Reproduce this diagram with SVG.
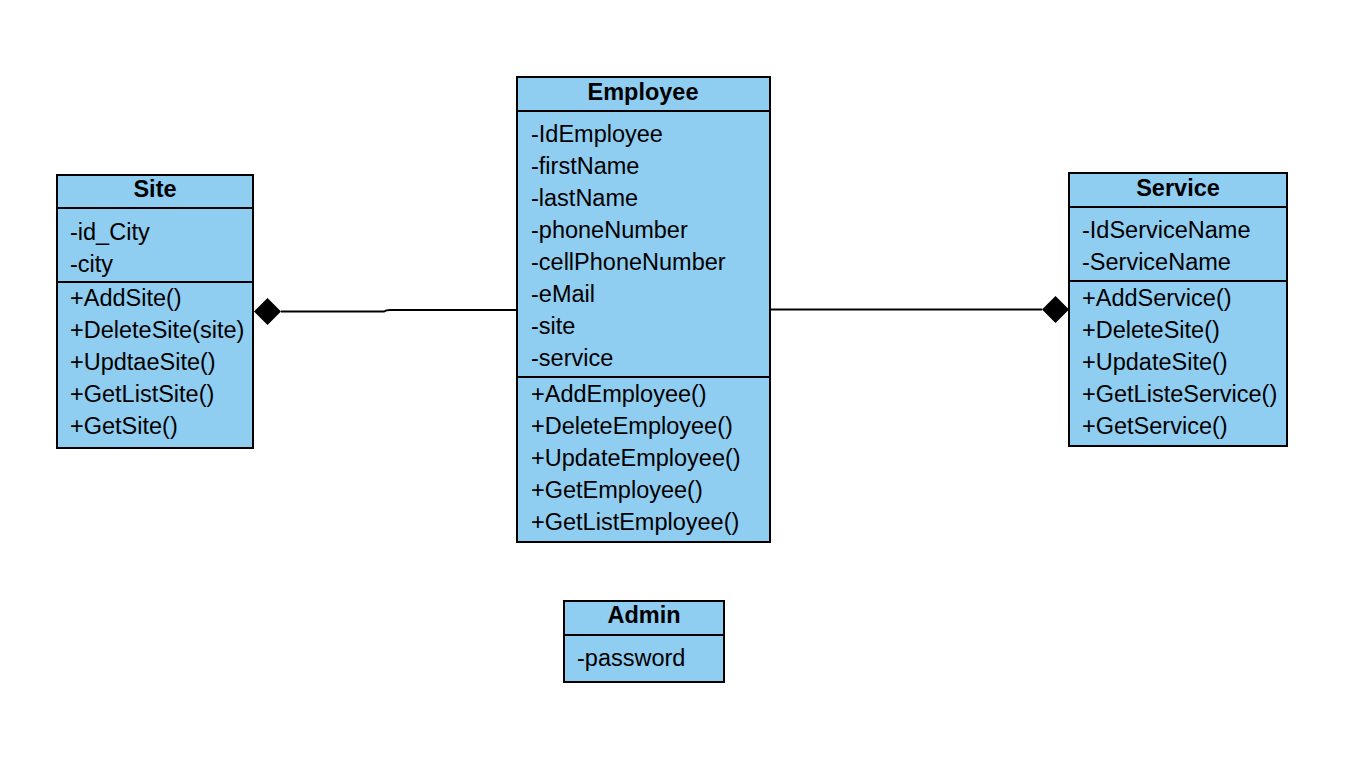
<svg xmlns="http://www.w3.org/2000/svg" width="1348" height="766" viewBox="0 0 1348 766">
<style>
.box{fill:#8fcdf1;stroke:#000;stroke-width:2}
.sep{stroke:#000;stroke-width:2}
.t{font-family:"Liberation Sans",Arial,Helvetica,sans-serif;font-size:23.5px;fill:#000}
.h{font-family:"Liberation Sans",Arial,Helvetica,sans-serif;font-size:23.5px;font-weight:bold;fill:#000;text-anchor:middle}
.ln{fill:none;stroke:#000;stroke-width:2}
</style>
<rect width="1348" height="766" fill="#fff"/>
<g id="connectors">
<path class="ln" d="M281 311.5 H384 Q386 310 390 310 H517"/>
<polygon points="254,311.5 267.5,298 281,311.5 267.5,325" fill="#000"/>
<path class="ln" d="M770 309.5 H1042"/>
<polygon points="1042,309.5 1055.5,296 1069,309.5 1055.5,323" fill="#000"/>
</g>
<g id="site">
<rect class="box" x="57" y="175" width="196" height="273"/>
<line class="sep" x1="57" y1="208" x2="253" y2="208"/>
<line class="sep" x1="57" y1="282" x2="253" y2="282"/>
<text class="h" x="155" y="197">Site</text>
<text class="t" x="70" y="240">-id_City</text>
<text class="t" x="70" y="272">-city</text>
<text class="t" x="70" y="306">+AddSite()</text>
<text class="t" x="70" y="338">+DeleteSite(site)</text>
<text class="t" x="70" y="370">+UpdtaeSite()</text>
<text class="t" x="70" y="402">+GetListSite()</text>
<text class="t" x="70" y="434">+GetSite()</text>
</g>
<g id="employee">
<rect class="box" x="517" y="77" width="253" height="465"/>
<line class="sep" x1="517" y1="111" x2="770" y2="111"/>
<line class="sep" x1="517" y1="377" x2="770" y2="377"/>
<text class="h" x="643" y="100">Employee</text>
<text class="t" x="531" y="142">-IdEmployee</text>
<text class="t" x="531" y="174">-firstName</text>
<text class="t" x="531" y="206">-lastName</text>
<text class="t" x="531" y="238">-phoneNumber</text>
<text class="t" x="531" y="270">-cellPhoneNumber</text>
<text class="t" x="531" y="302">-eMail</text>
<text class="t" x="531" y="334">-site</text>
<text class="t" x="531" y="366">-service</text>
<text class="t" x="531" y="402">+AddEmployee()</text>
<text class="t" x="531" y="434">+DeleteEmployee()</text>
<text class="t" x="531" y="466">+UpdateEmployee()</text>
<text class="t" x="531" y="498">+GetEmployee()</text>
<text class="t" x="531" y="530">+GetListEmployee()</text>
</g>
<g id="service">
<rect class="box" x="1069" y="173" width="218" height="273"/>
<line class="sep" x1="1069" y1="207" x2="1287" y2="207"/>
<line class="sep" x1="1069" y1="281" x2="1287" y2="281"/>
<text class="h" x="1178" y="196">Service</text>
<text class="t" x="1082" y="238">-IdServiceName</text>
<text class="t" x="1082" y="270">-ServiceName</text>
<text class="t" x="1082" y="306">+AddService()</text>
<text class="t" x="1082" y="338">+DeleteSite()</text>
<text class="t" x="1082" y="370">+UpdateSite()</text>
<text class="t" x="1082" y="402">+GetListeService()</text>
<text class="t" x="1082" y="434">+GetService()</text>
</g>
<g id="admin">
<rect class="box" x="564" y="601" width="160" height="81"/>
<line class="sep" x1="564" y1="635" x2="724" y2="635"/>
<text class="h" x="644" y="623">Admin</text>
<text class="t" x="577" y="666">-password</text>
</g>
</svg>
